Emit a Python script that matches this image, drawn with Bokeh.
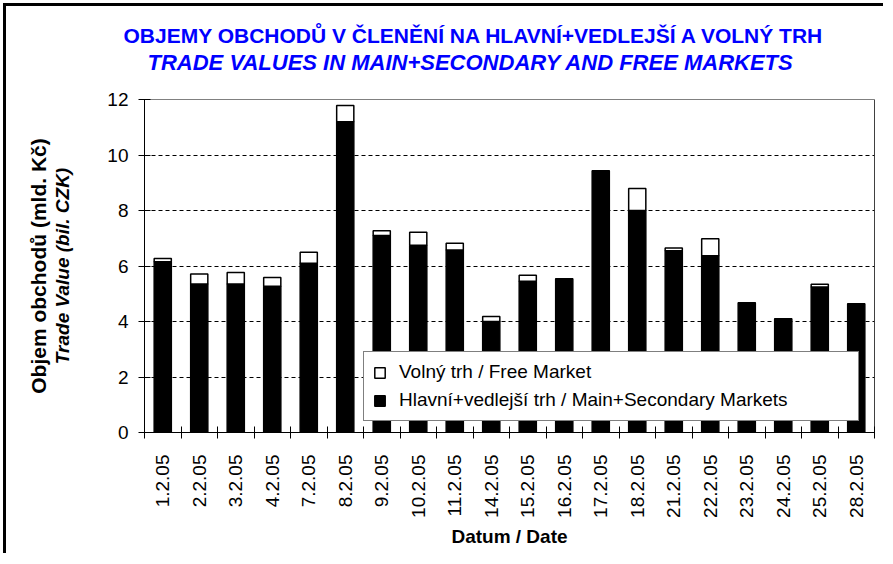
import math
from bokeh.plotting import figure
from bokeh.models import (ColumnDataSource, FixedTicker, Legend, LegendItem,
                          Title, Span)
from bokeh.embed import file_html
from bokeh.resources import INLINE

# ---------------- data ----------------
dates = ["1.2.05", "2.2.05", "3.2.05", "4.2.05", "7.2.05", "8.2.05", "9.2.05",
         "10.2.05", "11.2.05", "14.2.05", "15.2.05", "16.2.05", "17.2.05",
         "18.2.05", "21.2.05", "22.2.05", "23.2.05", "24.2.05", "25.2.05",
         "28.2.05"]
main_secondary = [6.15, 5.35, 5.35, 5.27, 6.10, 11.20, 7.10, 6.75, 6.58, 4.00,
                  5.45, 5.54, 9.43, 8.00, 6.55, 6.37, 4.68, 4.10, 5.24, 4.64]
free_market = [0.12, 0.36, 0.42, 0.32, 0.40, 0.58, 0.17, 0.47, 0.24, 0.18,
               0.22, 0.00, 0.00, 0.79, 0.10, 0.61, 0.00, 0.00, 0.10, 0.00]
y_ticks = [0, 2, 4, 6, 8, 10, 12]

title_cz = "OBJEMY OBCHODŮ V ČLENĚNÍ NA HLAVNÍ+VEDLEJŠÍ A VOLNÝ TRH"
title_en = "TRADE VALUES IN MAIN+SECONDARY AND FREE MARKETS"
ylabel_cz = "Objem obchodů (mld. Kč)"
ylabel_en = "Trade Value (bil. CZK)"
xlabel = "Datum / Date"
legend_free = "Volný trh / Free Market"
legend_main = "Hlavní+vedlejší trh / Main+Secondary Markets"

n = len(dates)
centers = [i + 0.5 for i in range(n)]
bounds = list(range(n + 1))

src = ColumnDataSource(dict(x=centers, date=dates, main=main_secondary,
                            free=free_market))

FONT = "Liberation Sans"

p = figure(width=880, height=550, x_range=(0, n), y_range=(0, 12),
           output_backend="svg", toolbar_location=None,
           min_border_left=138, min_border_right=12,
           min_border_top=93, min_border_bottom=124)
p.styles = {"border-style": "solid none none solid", "border-width": "3px",
            "border-color": "black", "margin": "3px 0px 0px 3px"}
p.background_fill_color = "white"
p.border_fill_color = "white"
p.outline_line_color = "#808080"

renderers = p.vbar_stack(["main", "free"], x="x", width=0.47, source=src,
                         fill_color=["black", "white"], line_color="black",
                         line_width=1.5)
r_main, r_free = renderers

# right edge of the plot area
p.add_layout(Span(location=n, dimension="height", line_color="black",
                  line_width=1))

# ---------------- axes ----------------
xa = p.xaxis[0]
xa.ticker = FixedTicker(ticks=centers, minor_ticks=bounds)
xa.major_label_overrides = {c: d for c, d in zip(centers, dates)}
xa.major_tick_in = 0
xa.major_tick_out = 0
xa.minor_tick_in = 6
xa.minor_tick_out = 6
xa.minor_tick_line_color = "black"
xa.axis_line_color = "black"
xa.major_label_orientation = math.pi / 2
xa.major_label_standoff = 16
xa.major_label_text_font = FONT
xa.major_label_text_font_size = "19px"
xa.major_label_text_color = "black"
xa.axis_label = xlabel
xa.axis_label_text_font = FONT
xa.axis_label_text_font_size = "19px"
xa.axis_label_text_font_style = "bold"
xa.axis_label_text_color = "black"
xa.axis_label_standoff = 5

ya = p.yaxis[0]
ya.ticker = FixedTicker(ticks=y_ticks)
ya.major_tick_in = 6
ya.major_tick_out = 6
ya.minor_tick_line_color = None
ya.axis_line_color = "black"
ya.major_tick_line_color = "black"
ya.major_label_standoff = 10
ya.major_label_text_font = FONT
ya.major_label_text_font_size = "19px"
ya.major_label_text_color = "black"
ya.axis_label = ylabel_en
ya.axis_label_text_font = FONT
ya.axis_label_text_font_size = "19px"
ya.axis_label_text_font_style = "bold italic"
ya.axis_label_text_color = "black"
ya.axis_label_standoff = 31

p.add_layout(Title(text=ylabel_cz, align="center", text_font=FONT,
                   text_font_size="21px", text_font_style="bold",
                   text_color="black", standoff=0), "left")

# grid
p.xgrid.visible = False
p.ygrid.grid_line_color = "black"
p.ygrid.grid_line_dash = "4 3"
p.ygrid.grid_line_width = 1

# ---------------- titles ----------------
p.title.text = title_cz
p.title.align = "left"
p.title.offset = -21
p.title.text_font = FONT
p.title.text_font_size = "21px"
p.title.text_font_style = "bold"
p.title.text_color = "#0000FF"
p.title.standoff = 2
# trailing line break leaves a blank line between subtitle and plot area
p.add_layout(Title(text=title_en + "\n", align="left", offset=3,
                   text_font=FONT, text_font_size="22px",
                   text_font_style="bold italic", text_color="#0000FF",
                   standoff=0), "above")

# ---------------- legend ----------------
legend = Legend(items=[LegendItem(label=legend_free, renderers=[r_free]),
                       LegendItem(label=legend_main, renderers=[r_main])],
                location=(219, 11), orientation="vertical",
                border_line_color="black", border_line_width=1,
                background_fill_color="white", background_fill_alpha=1.0,
                label_text_font=FONT, label_text_font_size="19px",
                label_text_color="black", glyph_width=13, glyph_height=13,
                label_standoff=13, padding=9, spacing=6, margin=0,
                label_width=450)
p.add_layout(legend, "center")

open("out.html", "w").write(file_html(p, INLINE))
